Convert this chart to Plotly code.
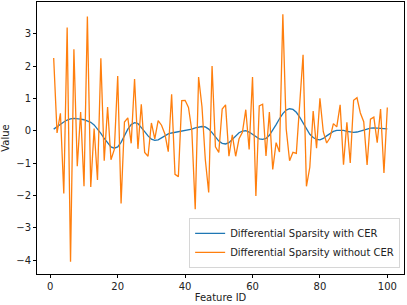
import plotly.graph_objects as go

feature_ids = list(range(1, 101))

with_cer = [0.05, 0.13, 0.2, 0.27, 0.33, 0.37, 0.38, 0.38, 0.36, 0.34,
            0.31, 0.26, 0.18, 0.06, -0.08, -0.24, -0.39, -0.5, -0.54, -0.5,
            -0.36, -0.15, 0.05, 0.19, 0.25, 0.22, 0.11, -0.03, -0.16, -0.26,
            -0.3, -0.28, -0.22, -0.15, -0.1, -0.07, -0.05, -0.04, -0.03, -0.01,
            0.02, 0.05, 0.09, 0.12, 0.13, 0.12, 0.05, -0.06, -0.2, -0.32,
            -0.39, -0.41, -0.37, -0.27, -0.15, -0.06, -0.01, 0.0, -0.04, -0.11,
            -0.19, -0.25, -0.27, -0.24, -0.14, 0.01, 0.19, 0.37, 0.53, 0.64,
            0.68, 0.66, 0.57, 0.42, 0.23, 0.04, -0.11, -0.21, -0.27, -0.28,
            -0.24, -0.16, -0.08, -0.02, 0.01, 0.02, 0.01, -0.02, -0.04, -0.05,
            -0.04, -0.01, 0.03, 0.06, 0.08, 0.09, 0.08, 0.07, 0.06, 0.06]

without_cer = [2.25, -0.07, 0.54, -1.94, 3.19, -4.05, 2.52, -1.1, 0.58, -1.72,
               3.53, -1.74, 0.07, -1.52, 2.24, -0.93, 0.73, -0.9, -0.58, 1.69,
               -2.25, 0.27, 0.4, -0.39, 1.6, -0.56, 0.82, -0.67, -0.79, 0.24,
               -0.25, 0.31, 0.17, -0.1, -0.65, 1.13, -1.35, -1.42, 0.93, 0.94,
               0.72, 0.0, -2.43, 1.66, 0.75, -0.9, -1.91, 2.0, -0.5, -0.67,
               0.67, 0.8, -0.79, -0.13, -0.79, -0.25, -0.05, 0.65, -0.58, 1.66,
               -2.02, 0.77, 0.82, -0.78, 0.58, -1.2, -0.37, -0.66, 3.6, 0.05,
               -0.93, -0.67, -0.7, 0.8, 2.35, -1.72, -1.13, 0.61, -0.54, 1.0,
               -0.03, -0.38, -0.22, 0.22, 0.12, 0.8, -1.05, 0.26, -1.0, 0.94,
               1.02, 0.55, 0.28, -1.06, 0.36, 0.42, -0.37, 0.67, -1.31, 0.72]

x_ticks = [0, 20, 40, 60, 80, 100]
y_ticks = [-4, -3, -2, -1, 0, 1, 2, 3]
y_tick_labels = ["\u22124", "\u22123", "\u22122", "\u22121", "0", "1", "2", "3"]

fig = go.Figure()
fig.add_trace(go.Scatter(x=feature_ids, y=with_cer, mode="lines",
                         name="Differential Sparsity with CER",
                         line=dict(color="#1f77b4", width=1.3)))
fig.add_trace(go.Scatter(x=feature_ids, y=without_cer, mode="lines",
                         name="Differential Sparsity without CER",
                         line=dict(color="#ff7f0e", width=1.3)))

ymin, ymax = min(without_cer), max(without_cer)
pad = (ymax - ymin) * 0.05
xpad = (feature_ids[-1] - feature_ids[0]) * 0.05

axis_common = dict(showgrid=False, zeroline=False, showline=True, linecolor="black",
                   linewidth=0.8, mirror=True, ticks="outside", ticklen=3,
                   tickwidth=0.8, tickcolor="black",
                   tickfont=dict(family="DejaVu Sans", size=10, color="#222"))

fig.update_layout(
    width=407, height=305,
    margin=dict(l=37, r=3, t=2, b=31),
    paper_bgcolor="white", plot_bgcolor="white",
    font=dict(family="DejaVu Sans", size=10, color="#222"),
    xaxis=dict(range=[feature_ids[0] - xpad, feature_ids[-1] + xpad],
               tickvals=x_ticks,
               title=dict(text="Feature ID", font=dict(size=10), standoff=3),
               **axis_common),
    yaxis=dict(range=[ymin - pad, ymax + pad], tickvals=y_ticks,
               ticktext=y_tick_labels,
               title=dict(text="Value", font=dict(size=10), standoff=5),
               **axis_common),
    legend=dict(x=0.99, xanchor="right", y=0.022, yanchor="bottom",
                bgcolor="rgba(255,255,255,0.8)", bordercolor="#cccccc",
                borderwidth=0.8, font=dict(size=10), tracegroupgap=0,
                itemwidth=30),
    showlegend=True,
)

fig.write_html("out.html", config={"displayModeBar": False},
               post_script="document.body.style.margin='0';")
